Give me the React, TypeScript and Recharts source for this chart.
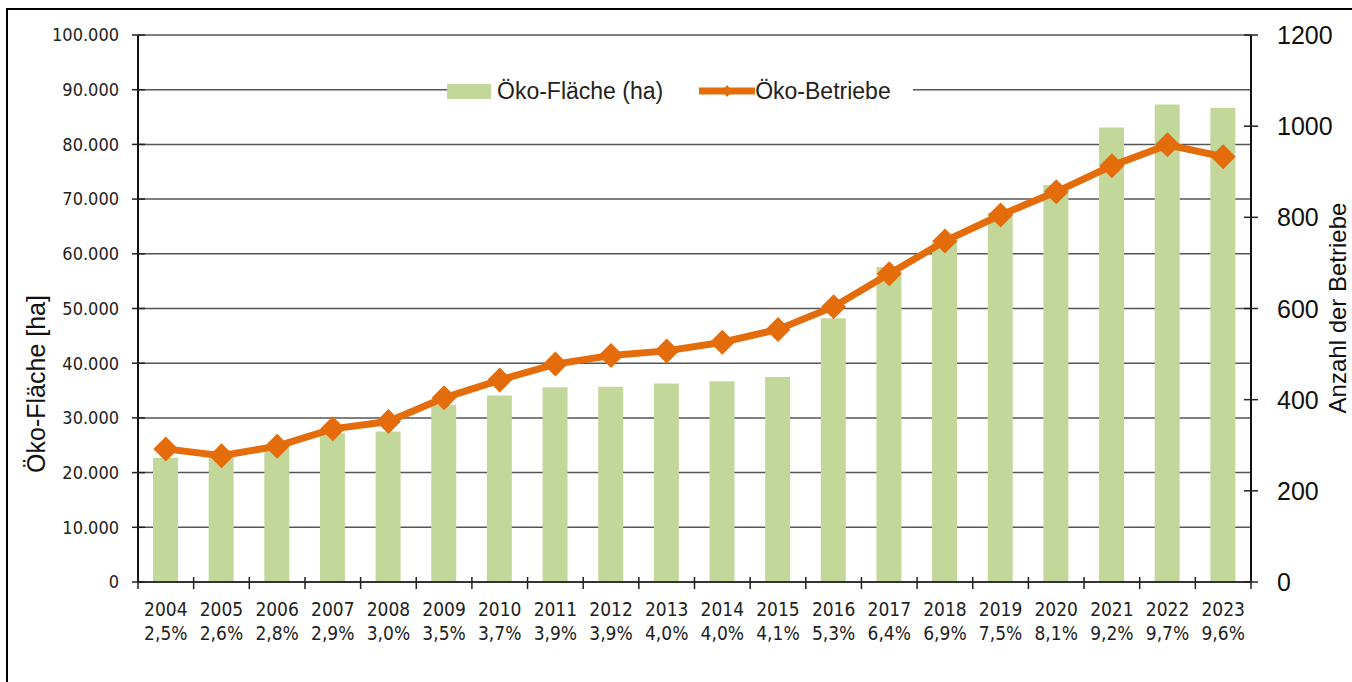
import React from 'react';
import { ComposedChart, Bar, Line, XAxis, YAxis, CartesianGrid, Legend } from 'recharts';

const years = ['2004','2005','2006','2007','2008','2009','2010','2011','2012','2013','2014','2015','2016','2017','2018','2019','2020','2021','2022','2023'];
const shares = ['2,5%','2,6%','2,8%','2,9%','3,0%','3,5%','3,7%','3,9%','3,9%','4,0%','4,0%','4,1%','5,3%','6,4%','6,9%','7,5%','8,1%','9,2%','9,7%','9,6%'];
const flaeche = [22700, 22800, 24700, 27200, 27500, 32400, 34100, 35600, 35700, 36300, 36700, 37500, 48200, 57600, 62500, 67500, 72600, 83100, 87300, 86700];
const betriebe = [292, 277, 298, 336, 352, 404, 443, 478, 497, 507, 526, 554, 604, 676, 748, 805, 856, 913, 959, 933];
const leftTicks = [0, 10000, 20000, 30000, 40000, 50000, 60000, 70000, 80000, 90000, 100000];
const rightTicks = [0, 200, 400, 600, 800, 1000, 1200];

const data = years.map((y, i) => ({ year: y, share: shares[i], flaeche: flaeche[i], betriebe: betriebe[i] }));

const W = 1352;
const H = 682;
const LEFT_W = 138;
const RIGHT_W = 101;
const PLOT_W = W - LEFT_W - RIGHT_W;
const BAND = PLOT_W / years.length;
const LEGEND_H = 26;
const GREEN = '#c4d79b';
const ORANGE = '#e46c0a';
const NARROW = "'Liberation Sans Narrow', 'Arial Narrow', 'DejaVu Sans Condensed', sans-serif";
const SANS = "'Liberation Sans', Arial, sans-serif";

const fmtDE = (v: number) => v === 0 ? '0' : v.toLocaleString('de-DE');

const LeftTick = (props: any) => {
  const { x, y, payload } = props;
  const ax = x + 7 + 12;
  return (
    <g>
      <line x1={ax - 6} x2={ax + 7} y1={y} y2={y} stroke="#222" strokeWidth={1.5} />
      <text x={x} y={y} dy="0.35em" textAnchor="end" fontFamily={NARROW} fontSize={18} fill="#222">{fmtDE(payload.value)}</text>
    </g>
  );
};

const RightTick = (props: any) => {
  const { x, y, payload } = props;
  const ax = x - 7 - 19;
  return (
    <g>
      <line x1={ax - 7} x2={ax + 7} y1={y} y2={y} stroke="#222" strokeWidth={1.5} />
      <text x={x} y={y} dy="0.36em" textAnchor="start" fontFamily={SANS} fontSize={25} fill="#111">{payload.value}</text>
    </g>
  );
};

const XTick = (props: any) => {
  const { x, y, payload, index } = props;
  const ay = y - 6;
  const d = data[index] || data.find((r) => r.year === payload.value);
  return (
    <g>
      <line x1={x - BAND / 2} x2={x - BAND / 2} y1={ay - 5} y2={ay + 7} stroke="#222" strokeWidth={1.5} />
      {index === years.length - 1 && (
        <line x1={x + BAND / 2} x2={x + BAND / 2} y1={ay - 5} y2={ay + 7} stroke="#222" strokeWidth={1.5} />
      )}
      <text x={x} y={ay + 34} textAnchor="middle" fontFamily={NARROW} fontSize={19} fill="#222">{payload.value}</text>
      <text x={x} y={ay + 58} textAnchor="middle" fontFamily={NARROW} fontSize={19} fill="#222">{d ? d.share : ''}</text>
    </g>
  );
};

const Diamond = (props: any) => {
  const { cx, cy } = props;
  if (cx == null || cy == null) return null;
  const r = 12.5;
  return <path d={`M${cx},${cy - r}L${cx + r},${cy}L${cx},${cy + r}L${cx - r},${cy}Z`} fill={ORANGE} stroke="none" />;
};

const LegendContent = () => (
  <div style={{ display: 'flex', alignItems: 'center', background: '#fff', height: LEGEND_H, width: 466, fontFamily: SANS, fontSize: 23, color: '#222', whiteSpace: 'nowrap' }}>
    <div style={{ width: 44, height: 15, background: GREEN, marginRight: 6 }} />
    <span>Öko-Fläche (ha)</span>
    <svg width={56} height={20} style={{ marginLeft: 36 }}>
      <line x1={1} x2={55} y1={10} y2={10} stroke={ORANGE} strokeWidth={7} strokeLinecap="round" />
      <path d="M28,4L33,10L28,16L23,10Z" fill={ORANGE} />
    </svg>
    <span>Öko-Betriebe</span>
  </div>
);

const LeftLabel = (props: any) => {
  const { viewBox } = props;
  const cx = viewBox.x + 36;
  const cy = 384;
  return (
    <text x={cx} y={cy} transform={`rotate(-90 ${cx} ${cy})`} textAnchor="middle" dy="0.35em" fontFamily={SANS} fontSize={25} fill="#111">Öko-Fläche [ha]</text>
  );
};

const RightLabel = (props: any) => {
  const { viewBox } = props;
  const cx = viewBox.x + viewBox.width - 14;
  const cy = 308;
  return (
    <text x={cx} y={cy} transform={`rotate(-90 ${cx} ${cy})`} textAnchor="middle" dy="0.35em" fontFamily={SANS} fontSize={24} fill="#111">Anzahl der Betriebe</text>
  );
};

export default function App() {
  return (
    <div style={{ position: 'absolute', left: 0, top: 0, width: W, height: H, overflow: 'hidden', background: '#fff' }}>
      <div style={{ position: 'absolute', left: 6, top: 8, width: 1400, height: 800, border: '2px solid #000', boxSizing: 'border-box' }} />
      <div style={{ position: 'absolute', left: 0, top: 0 }}>
        <ComposedChart width={W} height={H} data={data} margin={{ top: 35, right: 0, bottom: 40 - LEGEND_H, left: 0 }} barCategoryGap={0}>
          <CartesianGrid vertical={false} stroke="#555" strokeWidth={1.5} yAxisId="left" />
          <XAxis dataKey="year" height={60} tickLine={false} tickSize={6} tickMargin={0} interval={0} tick={<XTick />} stroke="#333" strokeWidth={2} />
          <YAxis yAxisId="left" orientation="left" width={LEFT_W} domain={[0, 100000]} ticks={leftTicks} interval={0} tickLine={false} tickSize={7} tickMargin={12} tick={<LeftTick />} stroke="#111" strokeWidth={2} label={<LeftLabel />} />
          <YAxis yAxisId="right" orientation="right" width={RIGHT_W} domain={[0, 1200]} ticks={rightTicks} interval={0} tickLine={false} tickSize={7} tickMargin={19} tick={<RightTick />} stroke="#111" strokeWidth={2} label={<RightLabel />} />
          <Legend content={<LegendContent />} wrapperStyle={{ position: 'absolute', left: 447, top: 78, width: 466, height: LEGEND_H }} />
          <Bar yAxisId="left" dataKey="flaeche" name="Öko-Fläche (ha)" fill={GREEN} barSize={25} isAnimationActive={false} />
          <Line yAxisId="right" dataKey="betriebe" name="Öko-Betriebe" stroke={ORANGE} strokeWidth={7} dot={<Diamond />} activeDot={false} isAnimationActive={false} />
        </ComposedChart>
      </div>
    </div>
  );
}
